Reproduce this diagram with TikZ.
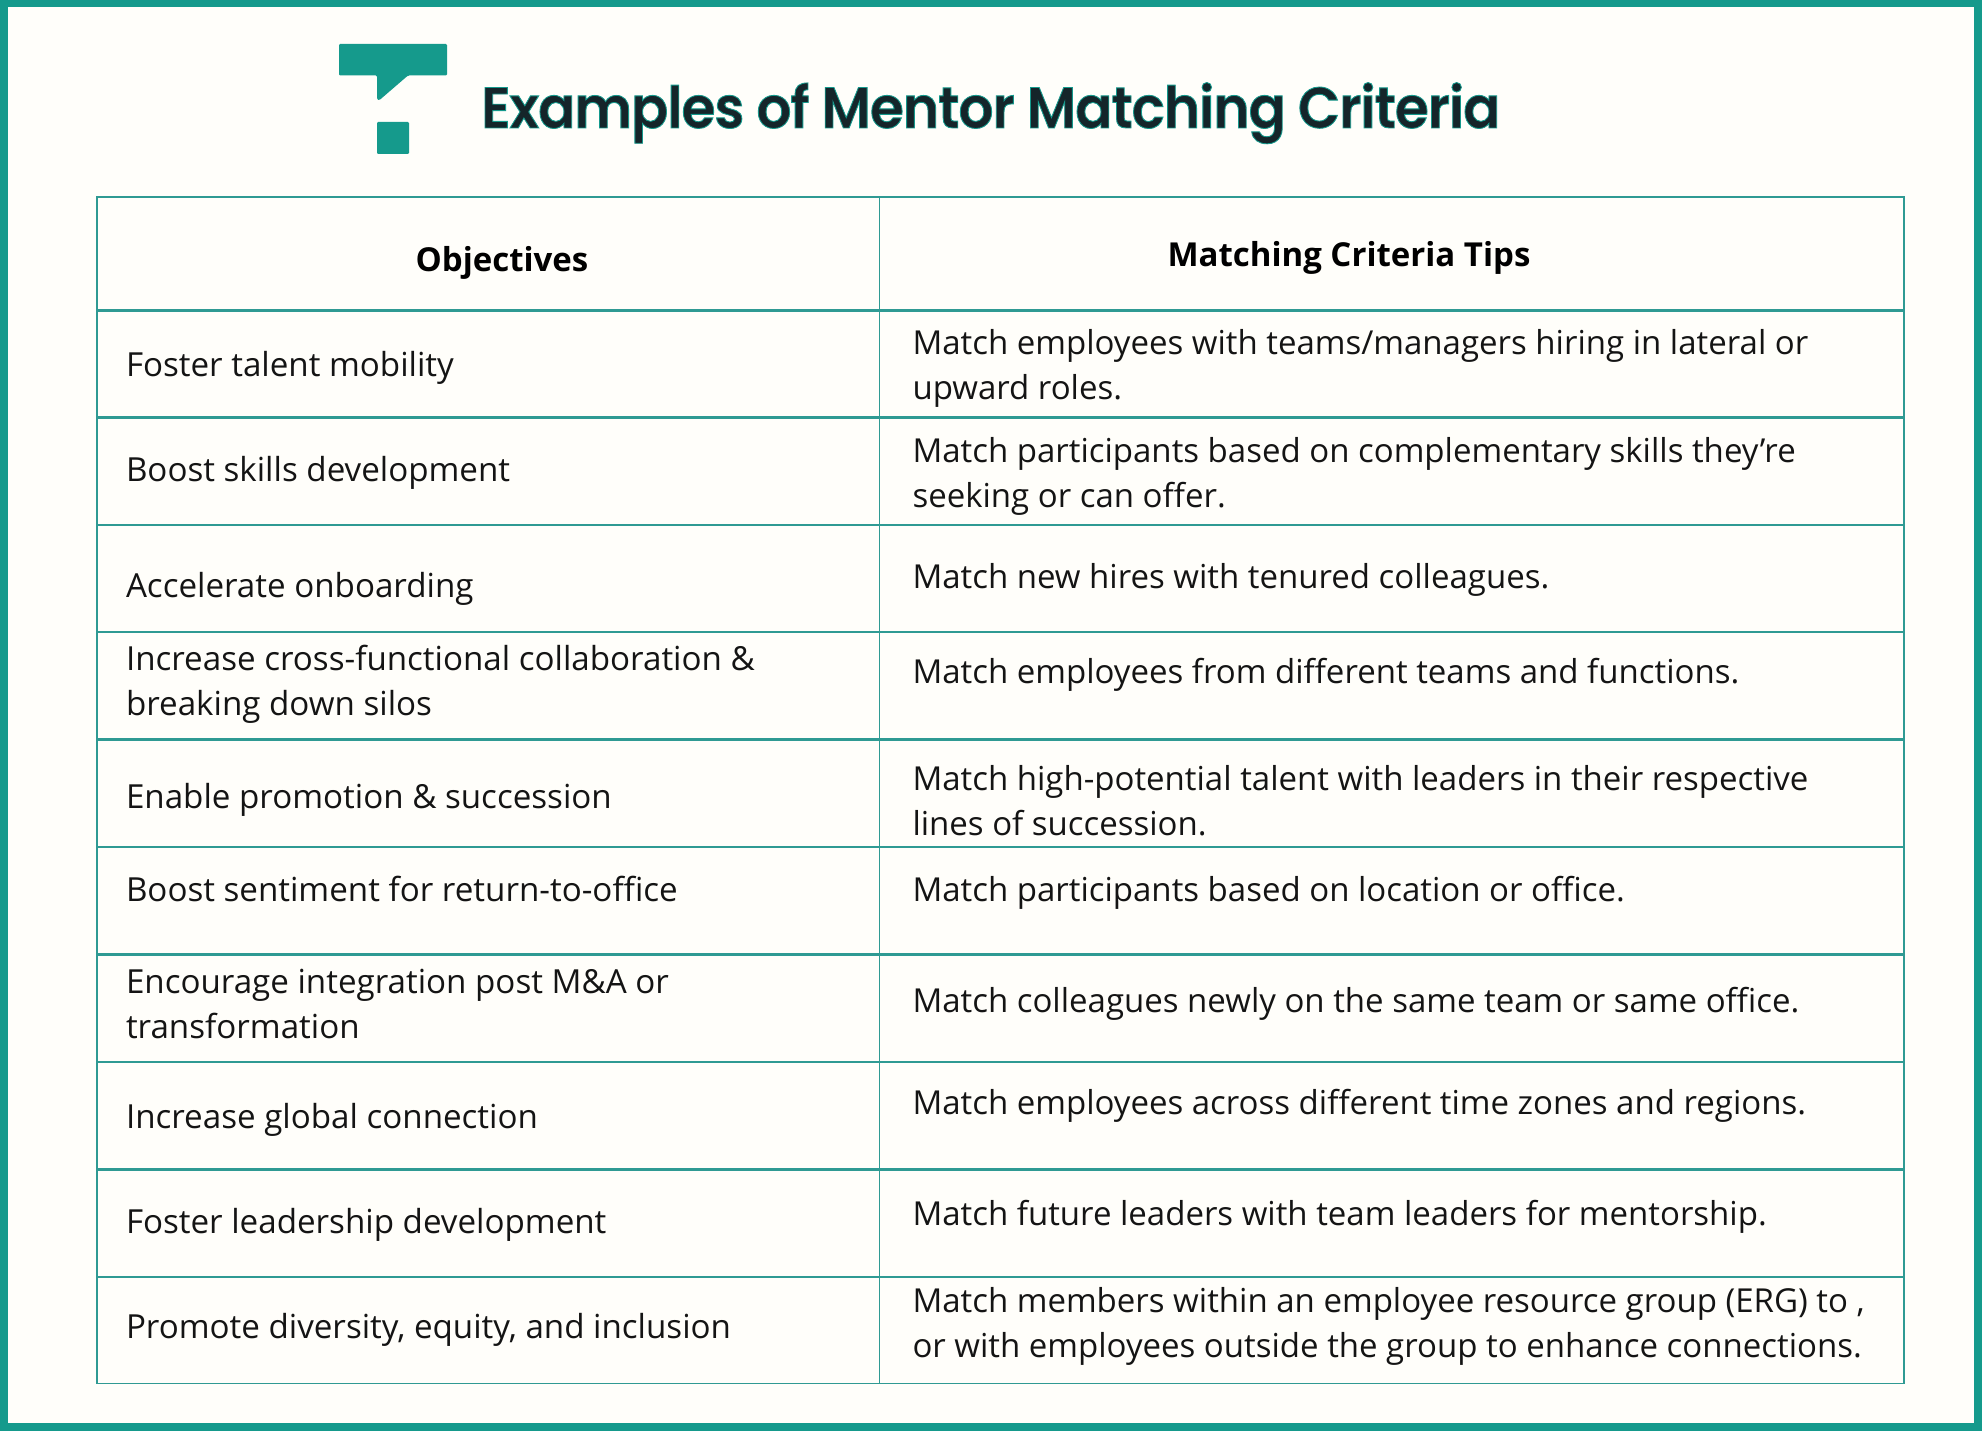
\documentclass[tikz,border=0pt]{standalone}
\usepackage{fontspec}
\setmainfont{Open Sans}
\newfontfamily\titlefont[FakeBold=1.5,FakeStretch=0.95,LetterSpace=-1.9]{Poppins SemiBold}
\definecolor{bgc}{HTML}{FFFEFA}
\definecolor{teal1}{HTML}{159A8C}
\definecolor{rulec}{HTML}{2F9A93}
\definecolor{titlec}{HTML}{15252A}
\tikzset{
  x=1pt,y=-1pt,
  hrule/.style={draw=rulec,line width=2.6pt},
  vrule/.style={draw=rulec,line width=1.5pt},
  cell/.style={anchor=north west,inner sep=0pt,outer sep=0pt,align=flush left,text width=760pt,font=\fontsize{33.15}{45}\selectfont,text=black!92},
  wide/.style={text width=985pt,font=\fontsize{33}{45}\selectfont},
  head/.style={anchor=base,inner sep=0pt,font=\fontsize{33}{45}\selectfont\bfseries,text=black},
}
\newcommand{\fs}{\rule{0pt}{30pt}}
\begin{document}
\begin{tikzpicture}
\useasboundingbox (0,0) rectangle (1982,1431);
\fill[teal1] (0,0) rectangle (1982,1431);
\fill[bgc] (7.5,7.5) rectangle (1974,1423);
% logo
\fill[teal1,rounded corners=1.2pt] (339,44) -- (447,44) -- (447,75.5) -- (408,75.5) -- (379,100.5) -- (377,99) -- (377,75.5) -- (339,75.5) -- cycle;
\fill[teal1,rounded corners=1.2pt] (377,122) rectangle (409,154);
% title
\node[anchor=base west,inner sep=0pt,text=titlec] (title) at (481,128) {\titlefont\fontsize{58}{60}\selectfont\special{pdf:code 0.08 0.6 0.55 RG}Examples of Mentor Matching Criteria};
% table
\foreach \y in {310.5,417.5,525,632,739.5,847,954.5,1062,1169.5,1277}{\draw[hrule] (97,\y) -- (1904,\y);}
\draw[vrule] (97,197) rectangle (1904,1383.5);
\draw[vrule] (879.5,197) -- (879.5,1383.5);
\draw[draw=rulec,line width=2pt] (97,197) -- (1904,197);
% header
\node[head] (h1) at (502,272) {Objectives};
\node[head] (h2) at (1349,267) {Matching Criteria Tips};
% left
\node[cell] (l1) at (126,347) {\fs Foster talent mobility};
\node[cell] (l2) at (126,451) {\fs Boost skills development};
\node[cell] (l3) at (126,567) {\fs Accelerate onboarding};
\node[cell] (l4) at (126,640) {\fs Increase cross-functional collaboration \&\\ breaking down silos};
\node[cell] (l5) at (126,778) {\fs Enable promotion \& succession};
\node[cell] (l6) at (126,871) {\fs Boost sentiment for return-to-office};
\node[cell] (l7) at (126,963) {\fs Encourage integration post M\&A or\\ transformation};
\node[cell] (l8) at (126,1098) {\fs Increase global connection};
\node[cell] (l9) at (126,1203) {\fs Foster leadership development};
\node[cell] (l10) at (126,1308) {\fs Promote diversity, equity, and inclusion};
% right
\node[cell,wide] (r1) at (912.5,325) {\fs Match employees with teams/managers hiring in lateral or\\ upward roles.};
\node[cell,wide] (r2) at (912.5,432) {\fs Match participants based on complementary skills they’re\\ seeking or can offer.};
\node[cell,wide] (r3) at (912.5,558) {\fs Match new hires with tenured colleagues.};
\node[cell,wide] (r4) at (912.5,653.5) {\fs Match employees from different teams and functions.};
\node[cell,wide] (r5) at (912.5,760) {\fs Match high-potential talent with leaders in their respective\\ lines of succession.};
\node[cell,wide] (r6) at (912.5,871) {\fs Match participants based on location or office.};
\node[cell,wide] (r7) at (912.5,982) {\fs Match colleagues newly on the same team or same office.};
\node[cell,wide] (r8) at (912.5,1084) {\fs Match employees across different time zones and regions.};
\node[cell,wide] (r9) at (912.5,1195) {\fs Match future leaders with team leaders for mentorship.};
\node[cell,wide] (r10) at (912.5,1282) {\fs Match members within an employee resource group (ERG) to ,\\ or with employees outside the group to enhance connections.};
\end{tikzpicture}
\end{document}
